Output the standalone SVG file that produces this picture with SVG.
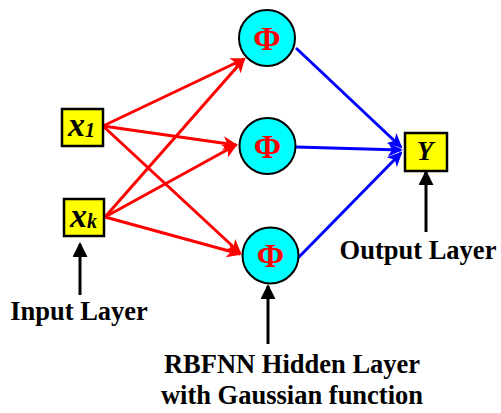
<svg xmlns="http://www.w3.org/2000/svg" width="501" height="413" viewBox="0 0 501 413">
<style>
.box{fill:#FFFF00;stroke:#000;stroke-width:2.5}
.cir{fill:#00FFFF;stroke:#000;stroke-width:2}
.phi{font-family:"Liberation Serif","Times New Roman",serif;font-weight:bold;font-size:33px;fill:#FF0000;text-anchor:middle}
.var{font-family:"Liberation Serif","Times New Roman",serif;font-weight:bold;font-style:italic;fill:#000}
.lbl{font-family:"Liberation Serif","Times New Roman",serif;font-weight:bold;font-size:26.5px;fill:#000;text-anchor:middle}
.red{stroke:#FF0000;stroke-width:3;fill:none;marker-end:url(#ar)}
.blue{stroke:#0000FF;stroke-width:3;fill:none;marker-end:url(#ab)}
.blk{stroke:#000;stroke-width:3;fill:none;marker-end:url(#ak)}
</style>
<defs>
<marker id="ar" markerUnits="userSpaceOnUse" markerWidth="16" markerHeight="14" refX="13" refY="7" orient="auto"><path d="M0,0 L15,7 L0,14 L4,7 z" fill="#FF0000"/></marker>
<marker id="ab" markerUnits="userSpaceOnUse" markerWidth="16" markerHeight="14" refX="13" refY="7" orient="auto"><path d="M0,0 L15,7 L0,14 L4,7 z" fill="#0000FF"/></marker>
<marker id="ak" markerUnits="userSpaceOnUse" markerWidth="16" markerHeight="16" refX="13" refY="7.5" orient="auto"><path d="M0,0 L15,7.5 L0,15 z" fill="#000"/></marker>
</defs>
<g id="connectors">
<line class="red" x1="103" y1="126" x2="244" y2="59"/>
<line class="red" x1="103" y1="126" x2="236" y2="145"/>
<line class="red" x1="103" y1="126" x2="240" y2="253"/>
<line class="red" x1="105" y1="217" x2="244" y2="59"/>
<line class="red" x1="105" y1="217" x2="236" y2="145"/>
<line class="red" x1="105" y1="217" x2="240" y2="254"/>
<line class="blue" x1="296" y1="48" x2="401" y2="147"/>
<line class="blue" x1="296" y1="147" x2="401" y2="150"/>
<line class="blue" x1="298" y1="258" x2="401" y2="153"/>
<line class="blk" x1="80" y1="295" x2="80" y2="244"/>
<line class="blk" x1="426" y1="232" x2="426" y2="172"/>
<line class="blk" x1="268" y1="344" x2="268" y2="286"/>
</g>
<g id="x1">
<rect class="box" x="62" y="109" width="41" height="37"/>
<text class="var" x="68" y="136" font-size="34">x<tspan font-size="20" dy="1">1</tspan></text>
</g>
<g id="xk">
<rect class="box" x="64" y="199" width="40" height="37"/>
<text class="var" x="70" y="227" font-size="34">x<tspan font-size="20" dy="1">k</tspan></text>
</g>
<g id="phi1">
<circle class="cir" cx="267" cy="38" r="28"/>
<text class="phi" x="267" y="50">Φ</text>
</g>
<g id="phi2">
<circle class="cir" cx="267.5" cy="146" r="28"/>
<text class="phi" x="267.5" y="158">Φ</text>
</g>
<g id="phi3">
<circle class="cir" cx="270.5" cy="255.5" r="28"/>
<text class="phi" x="270.5" y="267" font-weight="normal">Φ</text>
</g>
<g id="y">
<rect class="box" x="405" y="133" width="42" height="38"/>
<text class="var" x="425" y="160" font-size="27" text-anchor="middle">Y</text>
</g>
<g id="labels">
<text class="lbl" x="79" y="320">Input Layer</text>
<text class="lbl" x="418" y="259">Output Layer</text>
<text class="lbl" x="292" y="373">RBFNN Hidden Layer</text>
<text class="lbl" x="292" y="404">with Gaussian function</text>
</g>
</svg>
